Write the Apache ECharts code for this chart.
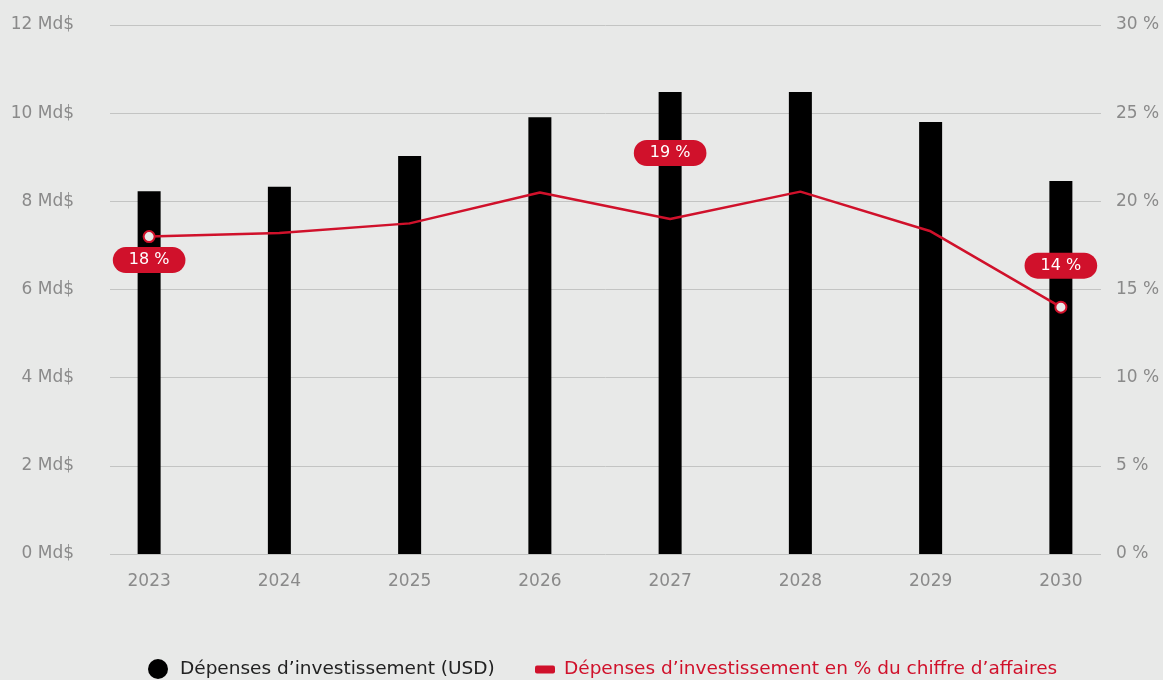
<!DOCTYPE html>
<html>
<head>
<meta charset="utf-8">
<title>Dépenses d'investissement</title>
<script src="https://cdn.jsdelivr.net/npm/echarts@6/dist/echarts.min.js"></script>
<style>
  html, body { margin: 0; padding: 0; background: #e8e9e8; }
  #chart { width: 1163px; height: 680px; }
</style>
</head>
<body>
<div id="chart"></div>
<script>
// Years on the category axis
const years = ['2023', '2024', '2025', '2026', '2027', '2028', '2029', '2030'];
// Capital expenditure, billions of USD
const capex = [8.23, 8.33, 9.03, 9.91, 10.48, 10.48, 9.80, 8.46];
// Capital expenditure as a share of revenue, %
const capexPct = [18, 18.2, 18.75, 20.5, 19, 20.55, 18.3, 14];
// Points that carry a value badge and those drawn with a ring marker
const badgeYears = ['2023', '2027', '2030'];
const markerYears = ['2023', '2030'];

const seriesBar = 'Dépenses d’investissement (USD)';
const seriesLine = 'Dépenses d’investissement en % du chiffre d’affaires';

const RED = '#d0112b';
const GREY_TEXT = '#8a8a8a';
const BG = '#e8e9e8';
const FONT = '"DejaVu Sans", sans-serif';

const badgePlacement = {
  '2023': { position: 'bottom', distance: 4 },
  '2027': { position: 'top', distance: 52 },
  '2030': { position: 'top', distance: 22 }
};

const lineData = capexPct.map((v, i) => {
  const yr = years[i];
  const item = { value: v };
  item.symbolSize = markerYears.includes(yr) ? 11 : 0.01;
  if (badgeYears.includes(yr)) {
    item.label = Object.assign({
      show: true,
      formatter: (p) => p.value + ' %',
      color: '#ffffff',
      backgroundColor: RED,
      borderRadius: 14,
      padding: [5, 16, 5, 16],
      fontFamily: FONT,
      fontSize: 16
    }, badgePlacement[yr]);
  }
  return item;
});

const chart = echarts.init(document.getElementById('chart'), null, { renderer: 'canvas' });

chart.setOption({
  backgroundColor: BG,
  animation: false,
  textStyle: { fontFamily: FONT },
  grid: [
    // plotting area for the bars and the line
    { left: 84, right: 37, top: 25, bottom: 126 },
    // area that carries the gridlines and the value-axis labels
    { left: 110, right: 62, top: 25, bottom: 126 }
  ],
  legend: [
    {
      data: [{ name: seriesBar, icon: 'circle', itemStyle: { color: '#000000' } }],
      left: 148, top: 659, padding: 0,
      itemWidth: 20, itemHeight: 20,
      textStyle: { color: '#222222', fontSize: 18.5, fontFamily: FONT, padding: [0, 0, 0, 7] }
    },
    {
      data: [{ name: seriesLine, icon: 'roundRect', itemStyle: { color: RED, borderWidth: 0 } }],
      left: 535, top: 660, padding: 0,
      itemWidth: 20, itemHeight: 8,
      textStyle: { color: RED, fontSize: 18.5, fontFamily: FONT, padding: [0, 0, 0, 4] }
    }
  ],
  xAxis: [
    {
      type: 'category', gridIndex: 0, data: years,
      axisLine: { show: false }, axisTick: { show: false },
      axisLabel: { color: GREY_TEXT, fontSize: 17, fontFamily: FONT, margin: 19 }
    },
    { type: 'value', gridIndex: 1, show: false, min: 0, max: 1 }
  ],
  yAxis: [
    { type: 'value', gridIndex: 0, min: 0, max: 12, interval: 2, show: false },
    { type: 'value', gridIndex: 0, min: 0, max: 30, interval: 5, show: false },
    {
      type: 'value', gridIndex: 1, position: 'left', min: 0, max: 12, interval: 2,
      axisLine: { show: false }, axisTick: { show: false },
      axisLabel: { color: GREY_TEXT, fontSize: 17, fontFamily: FONT, margin: 36, formatter: '{value} Md$' },
      splitLine: { lineStyle: { color: '#c3c4c3', width: 1 } }
    },
    {
      type: 'value', gridIndex: 1, position: 'right', min: 0, max: 30, interval: 5,
      axisLine: { show: false }, axisTick: { show: false },
      axisLabel: { color: GREY_TEXT, fontSize: 17, fontFamily: FONT, margin: 15, formatter: '{value} %' },
      splitLine: { show: false }
    }
  ],
  series: [
    {
      name: seriesBar, type: 'bar', xAxisIndex: 0, yAxisIndex: 0,
      data: capex, barWidth: 23,
      itemStyle: { color: '#000000' }
    },
    {
      name: seriesLine, type: 'line', xAxisIndex: 0, yAxisIndex: 1,
      data: lineData,
      symbol: 'circle',
      showSymbol: true,
      lineStyle: { color: RED, width: 2.5 },
      itemStyle: { color: BG, borderColor: RED, borderWidth: 2 },
      z: 3
    }
  ]
});
</script>
</body>
</html>
